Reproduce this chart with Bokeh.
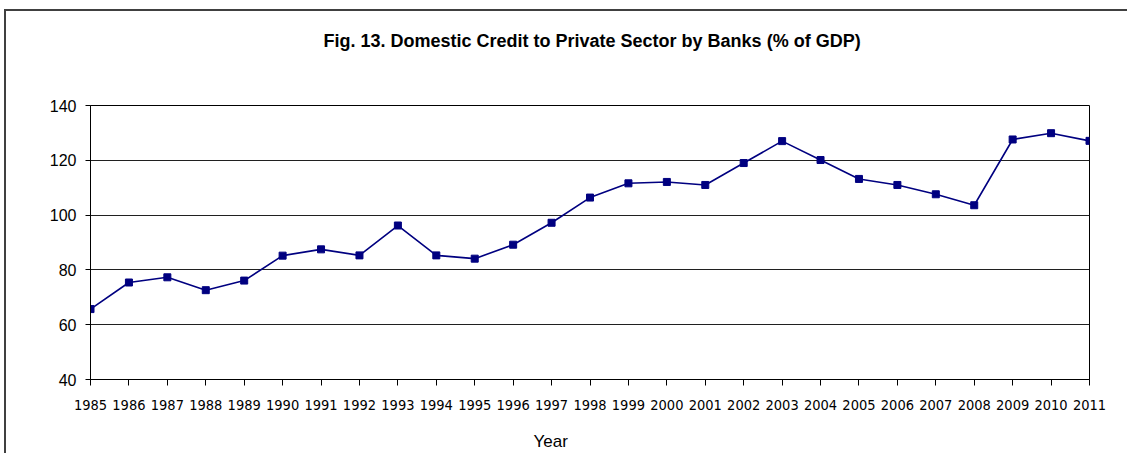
from bokeh.plotting import figure
from bokeh.models import Range1d, FixedTicker, Title
from bokeh.embed import file_html
from bokeh.resources import INLINE

years = list(range(1985, 2012))
credit = [65.7, 75.4, 77.3, 72.6, 76.1, 85.2, 87.5, 85.3, 96.2, 85.3,
          84.1, 89.2, 97.2, 106.4, 111.6, 112.1, 111.0, 119.0, 127.0, 120.1,
          113.2, 111.0, 107.6, 103.6, 127.6, 129.9, 127.1]
y_ticks = [40, 60, 80, 100, 120, 140]
title_text = "Fig. 13. Domestic Credit to Private Sector by Banks (% of GDP)"
x_title = "Year"

p = figure(width=1127, height=453, output_backend="svg", toolbar_location=None,
           x_range=Range1d(1985, 2011), y_range=Range1d(40, 140),
           min_border_left=90, min_border_right=38, min_border_top=105, min_border_bottom=74)

# spacer between title and plot area
p.add_layout(Title(text=" ", text_font_size="1px", standoff=32), "above")

p.title.text = title_text
p.title.align = "left"
p.title.offset = 233
p.title.text_font = "Liberation Sans"
p.title.text_font_size = "18px"
p.title.text_font_style = "bold"
p.title.text_color = "black"
p.title.standoff = 40

p.background_fill_color = "white"
p.border_fill_alpha = 0
p.styles = {
    "background": "linear-gradient(#404040, #404040) 4px 9px / 2px 100% no-repeat, "
                  "linear-gradient(#404040, #404040) 4px 9px / 100% 2px no-repeat, white"
}
p.outline_line_color = "black"
p.outline_line_width = 1

p.xgrid.grid_line_color = None
p.ygrid.grid_line_color = "#202020"
p.ygrid.grid_line_width = 1
p.ygrid.ticker = FixedTicker(ticks=y_ticks)

p.xaxis.ticker = FixedTicker(ticks=years)
p.xaxis.major_label_overrides = {y: str(y) for y in years}
p.xaxis.major_label_text_font = "DejaVu Sans Condensed, Liberation Sans"
p.xaxis.major_label_text_font_size = "14.5px"
p.xaxis.major_label_text_color = "black"
p.xaxis.major_label_standoff = 14
p.xaxis.major_tick_out = 6
p.xaxis.major_tick_in = 0
p.xaxis.minor_tick_line_color = None
p.xaxis.axis_line_color = "black"
p.xaxis.major_tick_line_color = "black"

p.yaxis.ticker = FixedTicker(ticks=y_ticks)
p.yaxis.major_label_text_font = "Liberation Sans"
p.yaxis.major_label_text_font_size = "16px"
p.yaxis.major_label_text_color = "black"
p.yaxis.major_label_standoff = 9
p.yaxis.major_tick_out = 5
p.yaxis.major_tick_in = 0
p.yaxis.minor_tick_line_color = None
p.yaxis.axis_line_color = "black"
p.yaxis.major_tick_line_color = "black"

p.line(years, credit, line_color="#000080", line_width=1.6)
p.scatter(years, credit, marker="square", size=7, fill_color="#000080", line_color="#000080")

# spacer below the year labels
p.add_layout(Title(text=" ", text_font_size="1px", standoff=14), "below")

# "Year" axis title, placed where the original chart places it
p.add_layout(Title(text=x_title, align="left", offset=443, standoff=0,
                   text_font="Liberation Sans", text_font_size="17px",
                   text_font_style="normal", text_color="black"), "below")

open("out.html", "w").write(file_html(p, INLINE))
